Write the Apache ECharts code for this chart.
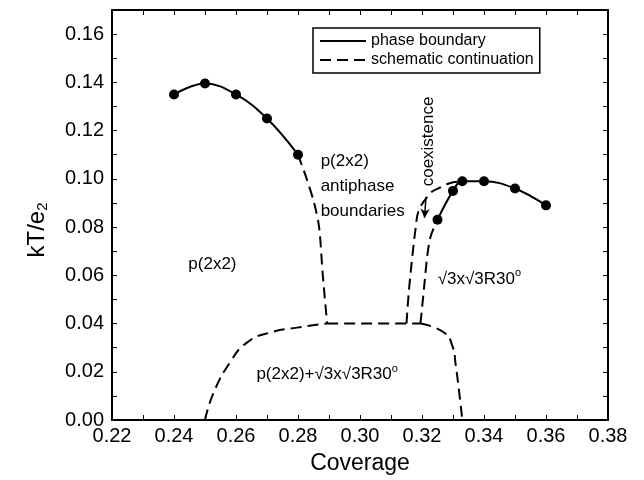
<!DOCTYPE html>
<html>
<head>
<meta charset="utf-8">
<script src="https://cdn.jsdelivr.net/npm/echarts@6/dist/echarts.min.js"></script>
<style>html,body{margin:0;padding:0;background:#fff}#c{width:644px;height:480px}</style>
</head>
<body>
<div id="c"></div>
<script>
// ---- data ----
const xTicks = [0.22, 0.24, 0.26, 0.28, 0.30, 0.32, 0.34, 0.36, 0.38];
const yTicks = [0.00, 0.02, 0.04, 0.06, 0.08, 0.10, 0.12, 0.14, 0.16];

// measured transition points (solid boundary)
const leftX  = [0.24, 0.25, 0.26, 0.27, 0.28];
const leftY  = [0.135, 0.1395, 0.135, 0.125, 0.110];
const rightX = [0.325, 0.330, 0.333, 0.340, 0.350, 0.360];
const rightY = [0.083, 0.095, 0.099, 0.099, 0.096, 0.089];

// schematic continuations (dashed)
const dropX = [0.280, 0.2828, 0.2852, 0.2868, 0.2880, 0.2894];
const dropY = [0.110, 0.100, 0.090, 0.080, 0.060, 0.040];
const domeLeftX  = [0.250, 0.2528, 0.2581, 0.2635, 0.2711, 0.2797, 0.2894];
const domeLeftY  = [0.000, 0.0114, 0.0239, 0.0321, 0.0363, 0.0383, 0.040];
const plateauX   = [0.2894, 0.3195];
const plateauY   = [0.040, 0.040];
const domeRightX = [0.3195, 0.3271, 0.3298, 0.3309, 0.3320, 0.3330];
const domeRightY = [0.040, 0.0363, 0.0307, 0.0225, 0.0115, 0.000];
const coexLX = [0.315, 0.3158, 0.3169, 0.3179, 0.3190, 0.3228, 0.3255, 0.3292, 0.333];
const coexLY = [0.040, 0.054, 0.068, 0.079, 0.087, 0.0942, 0.0962, 0.0983, 0.099];
const coexRX = [0.3195, 0.3206, 0.3217, 0.3228, 0.325];
const coexRY = [0.040, 0.054, 0.068, 0.0762, 0.083];

const seriesNames = ['phase boundary', 'schematic continuation'];
const phaseLabels = ['p(2x2)', 'p(2x2)\nantiphase\nboundaries', '√3x√3R30{s|o}', 'p(2x2)+√3x√3R30{s|o}', 'coexistence'];
const labelX = [0.2524, 0.2873, 0.3385, 0.2894, 0.3221];
const labelY = [0.0645, 0.0969, 0.0585, 0.0190, 0.1155];
const arrowFrom = [0.3213, 0.0925];
const arrowTo   = [0.3208, 0.0838];

// ---- chart ----
const zip = (xs, ys) => xs.map((x, i) => [x, ys[i]]);
const FONT = 'Liberation Sans';
const dashStyle = { color: '#000', width: 2, type: [11, 6] };
const solidStyle = { color: '#000', width: 2, type: 'solid' };

function dashed(xs, ys, smooth) {
  return { name: seriesNames[1], type: 'line', data: zip(xs, ys), symbol: 'none',
    smooth: smooth, lineStyle: dashStyle, itemStyle: { color: '#000' }, silent: true, z: 2 };
}

const labelStyles = [
  { align: 'center', verticalAlign: 'middle' },
  { align: 'left', verticalAlign: 'middle', lineHeight: 25 },
  { align: 'center', verticalAlign: 'middle' },
  { align: 'center', verticalAlign: 'middle' },
  { align: 'center', verticalAlign: 'middle', rotate: 90 }
];

const chart = echarts.init(document.getElementById('c'), null, { renderer: 'canvas' });
const axisCommon = {
  type: 'value',
  axisLine: { show: true, onZero: false, lineStyle: { color: '#000', width: 2 } },
  axisTick: { show: true, inside: true, length: 5, lineStyle: { color: '#000', width: 1 } },
  minorTick: { show: true, splitNumber: 2, length: 5, lineStyle: { color: '#000', width: 1 } },
  splitLine: { show: false }
};
chart.setOption({
  backgroundColor: '#fff',
  animation: false,
  textStyle: { fontFamily: FONT },
  grid: { left: 112, right: 36, top: 10, bottom: 59 },
  legend: {
    data: seriesNames,
    orient: 'vertical', left: 313, top: 28,
    itemWidth: 46, itemHeight: 14, itemGap: 3,
    padding: [5, 6, 5, 6],
    borderColor: '#000', borderWidth: 1.5, backgroundColor: '#fff',
    textStyle: { fontSize: 16, color: '#000', fontFamily: FONT },
    itemStyle: { opacity: 0 }
  },
  xAxis: [
    Object.assign({}, axisCommon, {
      position: 'bottom', min: xTicks[0], max: xTicks[xTicks.length - 1], interval: 0.02,
      name: 'Coverage', nameLocation: 'middle', nameGap: 32,
      nameTextStyle: { fontSize: 23, color: '#000', fontFamily: FONT },
      axisLabel: { fontSize: 20, color: '#000', margin: 6, fontFamily: FONT,
        formatter: v => v.toFixed(2) }
    }),
    Object.assign({}, axisCommon, {
      position: 'top', min: xTicks[0], max: xTicks[xTicks.length - 1], interval: 0.02,
      axisLabel: { show: false }
    })
  ],
  yAxis: [
    Object.assign({}, axisCommon, {
      position: 'left', min: yTicks[0], max: 0.17, interval: 0.02,
      name: 'kT/e{sub|2}', nameLocation: 'middle', nameGap: 62, nameRotate: 90,
      nameTextStyle: { fontSize: 24, color: '#000', fontFamily: FONT, padding: [0, 30, 0, 0],
        rich: { sub: { fontSize: 15, padding: [10, 0, 0, 0], fontFamily: FONT, color: '#000' } } },
      axisLabel: { fontSize: 20, color: '#000', margin: 8, fontFamily: FONT, showMaxLabel: false,
        formatter: v => (Math.abs(v - 0.17) < 1e-9 ? '' : v.toFixed(2)) }
    }),
    Object.assign({}, axisCommon, {
      position: 'right', min: yTicks[0], max: 0.17, interval: 0.02,
      axisLabel: { show: false }
    })
  ],
  series: [
    { name: seriesNames[0], type: 'line', data: zip(leftX, leftY), symbol: 'none', smooth: 0.4,
      lineStyle: solidStyle, itemStyle: { color: '#000' }, z: 3 },
    { name: seriesNames[0], type: 'line', data: zip(rightX, rightY), symbol: 'none', smooth: 0.4,
      lineStyle: solidStyle, itemStyle: { color: '#000' }, z: 3 },
    { name: 'points', type: 'scatter', data: zip(leftX.concat(rightX), leftY.concat(rightY)),
      symbol: 'circle', symbolSize: 10, itemStyle: { color: '#000', opacity: 1 }, z: 4 },
    dashed(dropX, dropY, 0.3),
    dashed(domeLeftX, domeLeftY, 0.5),
    dashed(plateauX, plateauY, false),
    dashed(domeRightX, domeRightY, 0.5),
    dashed(coexLX, coexLY, 0.35),
    dashed(coexRX, coexRY, 0.3),
    {
      name: 'labels', type: 'scatter', symbolSize: 0, z: 5, silent: true,
      itemStyle: { opacity: 1 },
      data: phaseLabels.map((t, i) => ({
        value: [labelX[i], labelY[i]],
        label: Object.assign({ show: true, position: 'inside', formatter: t, fontSize: 17,
          color: '#000', opacity: 1, textBorderWidth: 0, fontFamily: FONT,
          rich: { s: { fontSize: 11, padding: [0, 0, 11, 0], color: '#000', fontFamily: FONT } } },
          labelStyles[i])
      })),
      markLine: {
        silent: true, symbol: ['none', 'arrow'], symbolSize: [7, 9],
        lineStyle: { color: '#000', width: 1.5, type: 'solid', opacity: 1 },
        label: { show: false },
        data: [[{ coord: arrowFrom }, { coord: arrowTo }]]
      }
    }
  ]
});
</script>
</body>
</html>
